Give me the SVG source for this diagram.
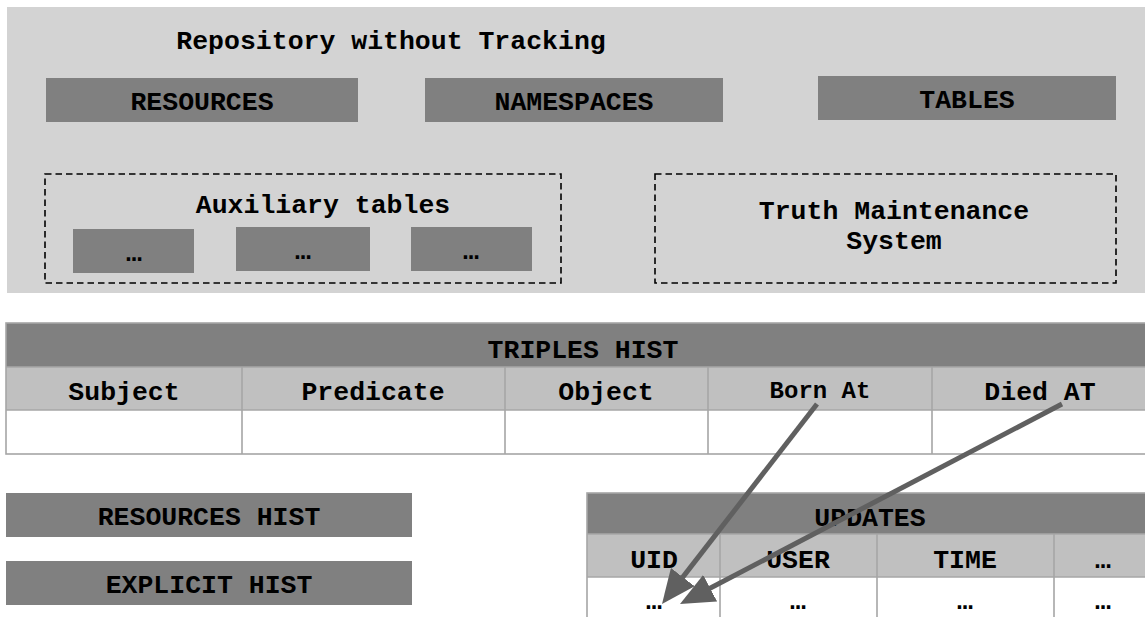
<svg xmlns="http://www.w3.org/2000/svg" width="1145" height="617" viewBox="0 0 1145 617">
<style>
  text { font-family: "Liberation Mono", "Courier New", monospace; font-weight: bold; font-size: 26.5px; fill: #000; text-anchor: middle; }
  .small { font-size: 24px; }
  .box { fill: #808080; }
  .dash { fill: none; stroke: #000; stroke-width: 1.6; stroke-dasharray: 6.5 4; }
  .hdr { fill: #808080; }
  .colhdr { fill: #c0c0c0; }
  .cell { fill: #ffffff; }
  .grid { stroke: #a6a6a6; stroke-width: 1.6; fill: none; }
  .arrow { stroke: #606060; stroke-width: 5; fill: none; marker-end: url(#head); }
</style>
<defs>
  <marker id="head" markerUnits="userSpaceOnUse" markerWidth="34" markerHeight="30" viewBox="0 0 34 30" refX="25" refY="15" orient="auto">
    <path d="M0,0 L34,15 L0,30 z" fill="#606060"/>
  </marker>
</defs>
<rect width="1145" height="617" fill="#ffffff"/>

<g id="repository">
  <rect x="7" y="7" width="1145" height="286" fill="#d3d3d3"/>
  <text x="391" y="49">Repository without Tracking</text>
</g>
<g id="resources">
  <rect class="box" x="46" y="78" width="312" height="44"/>
  <text x="202" y="110">RESOURCES</text>
</g>
<g id="namespaces">
  <rect class="box" x="425" y="78" width="298" height="44"/>
  <text x="574" y="110">NAMESPACES</text>
</g>
<g id="tables">
  <rect class="box" x="818" y="76" width="298" height="44"/>
  <text x="967" y="108">TABLES</text>
</g>
<g id="auxiliary">
  <rect class="dash" x="45" y="174" width="516" height="109"/>
  <text x="323" y="213">Auxiliary tables</text>
</g>
<g id="aux1">
  <rect class="box" x="73" y="229" width="121" height="44"/>
  <text x="134" y="261">…</text>
</g>
<g id="aux2">
  <rect class="box" x="236" y="227" width="134" height="44"/>
  <text x="303" y="259">…</text>
</g>
<g id="aux3">
  <rect class="box" x="411" y="227" width="121" height="44"/>
  <text x="471" y="259">…</text>
</g>
<g id="tms">
  <rect class="dash" x="655" y="174" width="461" height="109"/>
  <text x="894" y="219">Truth Maintenance</text>
  <text x="894" y="249">System</text>
</g>

<g id="triples-hist">
  <rect class="hdr" x="6" y="323" width="1150" height="44"/>
  <rect class="colhdr" x="6" y="367" width="1150" height="43"/>
  <rect class="cell" x="6" y="410" width="1150" height="44"/>
  <rect class="grid" x="6" y="323" width="1150" height="131" stroke-width="2"/>
  <path class="grid" d="M6,367 H1150 M6,410 H1150 M242,367 V454 M505,367 V454 M708,367 V454 M932,367 V454"/>
  <text x="583" y="358">TRIPLES HIST</text>
  <text x="124" y="400">Subject</text>
  <text x="373" y="400">Predicate</text>
  <text x="606" y="400">Object</text>
  <text class="small" x="820" y="398">Born At</text>
  <text x="1040" y="400">Died AT</text>
</g>

<g id="resources-hist">
  <rect class="box" x="6" y="493" width="406" height="44"/>
  <text x="209" y="525">RESOURCES HIST</text>
</g>
<g id="explicit-hist">
  <rect class="box" x="6" y="561" width="406" height="44"/>
  <text x="209" y="593">EXPLICIT HIST</text>
</g>

<g id="updates">
  <rect class="hdr" x="587" y="493" width="570" height="41"/>
  <rect class="colhdr" x="587" y="534" width="570" height="43"/>
  <rect class="cell" x="587" y="577" width="570" height="45"/>
  <rect class="grid" x="587" y="493" width="570" height="129" stroke-width="2"/>
  <path class="grid" d="M587,534 H1150 M587,577 H1150 M720,534 V620 M877,534 V620 M1054,534 V620"/>
  <text x="870" y="526">UPDATES</text>
  <text x="654" y="568">UID</text>
  <text x="798" y="568">USER</text>
  <text x="965" y="568">TIME</text>
  <text x="1103" y="568">…</text>
  <text x="654" y="609">…</text>
  <text x="798" y="609">…</text>
  <text x="965" y="609">…</text>
  <text x="1103" y="609">…</text>
</g>

<g id="connectors">
  <line class="arrow" x1="817" y1="404" x2="667.5" y2="596.9"/>
  <line class="arrow" x1="1062" y1="404" x2="688" y2="599.8"/>
</g>
</svg>
